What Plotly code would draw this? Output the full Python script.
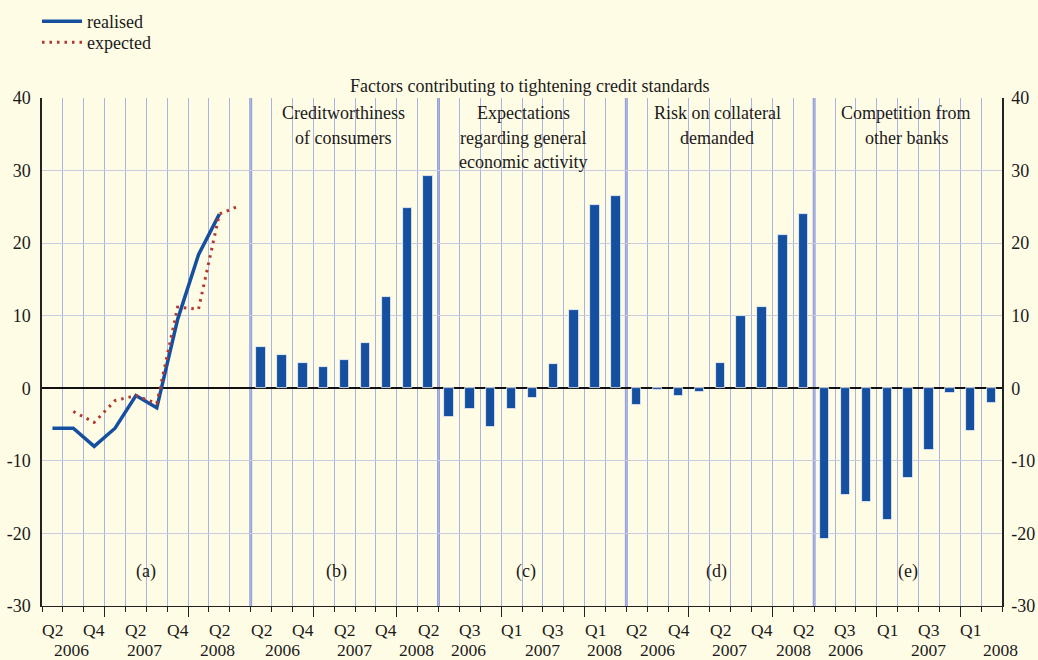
import plotly.graph_objects as go

# ---------------- data ----------------
quarters_a = ["Q2 2006", "Q3 2006", "Q4 2006", "Q1 2007", "Q2 2007", "Q3 2007",
              "Q4 2007", "Q1 2008", "Q2 2008", "Q3 2008"]
quarters = quarters_a[:9]

realised = [-5.5, -5.5, -8.0, -5.5, -1.0, -2.7, 9.5, 18.4, 24.0]       # Q2 2006 .. Q2 2008
expected = [-3.2, -4.7, -1.7, -1.0, -2.1, 11.2, 10.9, 24.0, 25.2]      # Q3 2006 .. Q3 2008

creditworthiness = [5.7, 4.6, 3.5, 2.9, 3.9, 6.2, 12.6, 24.8, 29.2]
expectations = [-4.0, -2.8, -5.3, -2.8, -1.4, 3.4, 10.8, 25.3, 26.5]
collateral = [-2.3, -0.2, -1.1, -0.5, 3.5, 9.9, 11.2, 21.1, 24.0]
competition = [-20.7, -14.7, -15.6, -18.1, -12.3, -8.5, -0.6, -5.9, -2.0]

y_tick_values = [-30, -20, -10, 0, 10, 20, 30, 40]
y_tick_labels = ["-30", "-20", "-10", "0", "10", "20", "30", "40"]

panel_letters = ["(a)", "(b)", "(c)", "(d)", "(e)"]
panel_titles = [None,
                ["Creditworthiness", "of consumers"],
                ["Expectations", "regarding general", "economic activity"],
                ["Risk on collateral", "demanded"],
                ["Competition from", "other banks"]]
main_title = "Factors contributing to tightening credit standards"
quarter_labels_even = ["Q2", "", "Q4", "", "Q2", "", "Q4", "", "Q2"]
quarter_labels_odd = ["", "Q3", "", "Q1", "", "Q3", "", "Q1", ""]
years = ["2006", "2007", "2008"]

# ---------------- layout helpers ----------------
offsets = [0, 10, 19, 28, 37]          # first cell of each panel on the x axis
n_total = 46
FONT = "Liberation Serif"
FS = 18
FS_X = 17.5
TXT = "#1a1a1a"
BLUE = "#1550A0"
RED = "#B0392E"
BG = "#FFFCE6"
VGRID = "#A9B3E4"
HGRID = "#C9CCDD"
PLOT_TOP, PLOT_H = 98, 508

def cell_x(panel, i):
    return offsets[panel] + i + 0.5

def py(pix):
    return (PLOT_TOP + PLOT_H - pix) / PLOT_H

fig = go.Figure()

# bars (panels b - e)
bar_series = [creditworthiness, expectations, collateral, competition]
bx, by, bt = [], [], []
for p, series in enumerate(bar_series, start=1):
    for i, v in enumerate(series):
        bx.append(cell_x(p, i))
        by.append(v)
        bt.append(quarters[i])
fig.add_trace(go.Bar(x=bx, y=by, width=0.45, customdata=bt,
                     marker=dict(color=BLUE, line=dict(color="#F4F4FA", width=0.8)),
                     showlegend=False, hovertemplate="%{customdata}: %{y}<extra></extra>"))

# lines (panel a)
fig.add_trace(go.Scatter(x=[cell_x(0, i) for i in range(len(realised))], y=realised,
                         mode="lines", name="realised", text=quarters_a[:9],
                         line=dict(color=BLUE, width=3.5), legend="legend"))
fig.add_trace(go.Scatter(x=[cell_x(0, i + 1) for i in range(len(expected))], y=expected,
                         mode="lines", name="expected", text=quarters_a[1:],
                         line=dict(color=RED, width=3, dash="2.5px,5px"), legend="legend2"))

# invisible trace to activate the right axis
fig.add_trace(go.Scatter(x=[0], y=[0], yaxis="y2", mode="markers",
                         marker=dict(opacity=0), showlegend=False, hoverinfo="skip"))

# panel separators
shapes = []
for off in offsets[1:]:
    shapes.append(dict(type="line", xref="x", yref="paper", x0=off, x1=off, y0=0, y1=1,
                       line=dict(color="#98A3DC", width=3), layer="between"))

year_bounds = []
for off in offsets:
    year_bounds += [off + 3, off + 7]

annotations = []
# panel letters
letter_x = [5.0, 14.1, 23.2, 32.3, 41.5]
for lx, lt in zip(letter_x, panel_letters):
    annotations.append(dict(x=lx, y=-25.2, xref="x", yref="y", text=lt, showarrow=False,
                            font=dict(family=FONT, size=FS, color=TXT)))
# panel titles
title_x = [None, 14.43, 23.05, 32.35, 41.4]
for tx, lines in zip(title_x, panel_titles):
    if not lines:
        continue
    for k, line in enumerate(lines):
        annotations.append(dict(x=tx, y=py(113 + 24.5 * k), xref="x", yref="paper",
                                text=line, showarrow=False, yanchor="middle",
                                font=dict(family=FONT, size=FS, color=TXT)))
# main title
annotations.append(dict(x=23.35, y=py(86), xref="x", yref="paper", text=main_title,
                        showarrow=False, yanchor="middle",
                        font=dict(family=FONT, size=FS, color=TXT)))
# quarter labels
q_sets = [quarter_labels_even, quarter_labels_even, quarter_labels_odd,
          quarter_labels_even, quarter_labels_odd]
for p, labels in enumerate(q_sets):
    for i, lab in enumerate(labels):
        if lab:
            annotations.append(dict(x=cell_x(p, i), y=py(629.5), xref="x", yref="paper",
                                    text=lab, showarrow=False, yanchor="middle", borderpad=0,
                                    font=dict(family=FONT, size=FS_X, color=TXT)))
# year labels
year_pos = [[1.42, 4.92, 8.42], [11.5, 14.96, 17.96], [20.43, 23.98, 26.95],
            [29.47, 32.96, 36.0], [38.5, 42.5, 45.93]]
for pos in year_pos:
    for yx, yl in zip(pos, years):
        annotations.append(dict(x=yx, y=py(650), xref="x", yref="paper",
                                text=yl, showarrow=False, yanchor="middle", borderpad=0,
                                font=dict(family=FONT, size=FS_X, color=TXT)))

legend_common = dict(xanchor="left", yanchor="top", bgcolor="rgba(0,0,0,0)",
                     font=dict(family=FONT, size=FS, color=TXT), itemwidth=40)

yaxis_common = dict(range=[-30, 40], tickmode="array", tickvals=y_tick_values,
                    ticktext=y_tick_labels, showline=True, linecolor="#222",
                    linewidth=1.5, ticks="", tickfont=dict(family=FONT, size=FS, color=TXT))

fig.update_layout(
    width=1038, height=660,
    margin=dict(l=42, r=36, t=98, b=54, autoexpand=False),
    paper_bgcolor=BG, plot_bgcolor=BG,
    font=dict(family=FONT, size=FS, color=TXT),
    bargap=0,
    shapes=shapes, annotations=annotations,
    legend=dict(x=(37 - 42) / 960, y=py(3), **legend_common),
    legend2=dict(x=(37 - 42) / 960, y=py(24), **legend_common),
    xaxis=dict(range=[0, n_total], tickmode="array", tickvals=year_bounds,
               showticklabels=False, ticks="outside", ticklen=10, tickcolor="#222",
               showgrid=True, gridcolor=VGRID, gridwidth=1,
               minor=dict(tickmode="array", tickvals=list(range(n_total + 1)),
                          ticks="outside", ticklen=5, tickcolor="#222",
                          showgrid=True, gridcolor=VGRID, gridwidth=1),
               showline=True, linecolor="#222", linewidth=1, zeroline=False, fixedrange=True),
    yaxis=dict(showgrid=True, gridcolor=HGRID, zeroline=True, zerolinecolor="#111",
               zerolinewidth=1.5, ticklabelstandoff=6, **yaxis_common),
    yaxis2=dict(overlaying="y", side="right", showgrid=False, zeroline=False,
                ticklabelstandoff=4, **yaxis_common),
)

fig.write_html("out.html", config={"displayModeBar": False},
               post_script="document.body.style.margin='0';document.body.style.overflow='hidden';")
